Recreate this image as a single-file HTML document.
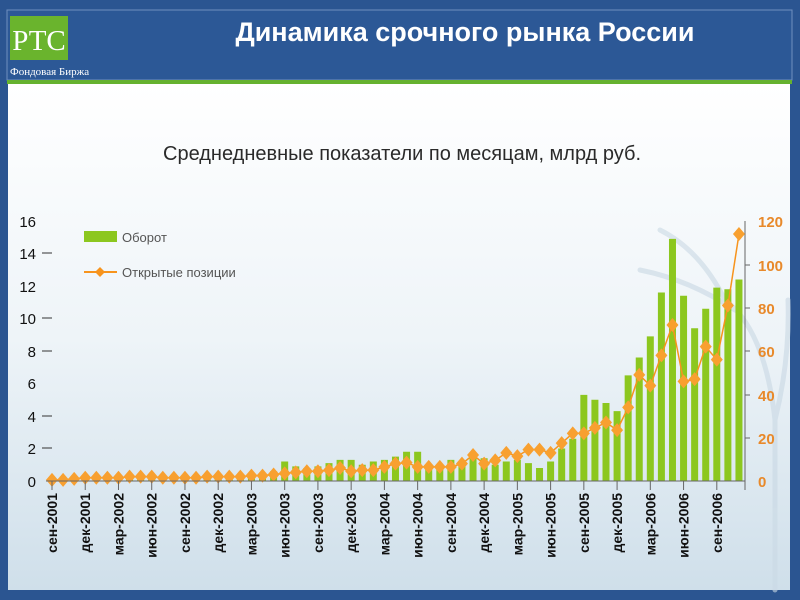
<!DOCTYPE html>
<html><head><meta charset="utf-8"><style>
html,body{margin:0;padding:0;width:800px;height:600px;overflow:hidden;background:#2b5591}
svg{display:block}
</style></head><body>
<svg width="800" height="600" xmlns="http://www.w3.org/2000/svg" font-family="Liberation Sans, DejaVu Sans, sans-serif">
<defs>
<linearGradient id="bg" x1="0" y1="0" x2="0" y2="1">
<stop offset="0" stop-color="#ffffff"/><stop offset="0.5" stop-color="#eef4f8"/><stop offset="1" stop-color="#cfdfea"/>
</linearGradient>
</defs>
<rect x="0" y="0" width="800" height="600" fill="#2b5591"/>
<rect x="7" y="10" width="785" height="70" fill="#2c5896" stroke="#6f8fbf" stroke-width="1"/>
<rect x="7" y="80" width="785" height="4" fill="#66b22f"/>
<rect x="8" y="84" width="782" height="506" fill="url(#bg)"/>
<!-- tree hint -->
<g stroke="#c9d8e4" stroke-width="5" fill="none" stroke-linecap="round" opacity="0.6">
<path d="M775 590 L775 420 Q765 330 725 300"/>
<path d="M775 420 Q790 360 788 300"/>
<path d="M735 310 Q690 280 640 270"/>
<path d="M725 300 Q700 250 660 230"/>
</g>
<!-- logo -->
<rect x="10" y="16" width="58" height="44" fill="#6ab42d"/>
<text x="39" y="50" text-anchor="middle" font-family="Liberation Serif, serif" font-size="29" fill="#fff">РТС</text>
<text x="10" y="75" font-family="Liberation Serif, serif" font-size="11" fill="#fff">Фондовая Биржа</text>
<text x="465" y="41" text-anchor="middle" font-size="27" font-weight="bold" fill="#fff">Динамика срочного рынка России</text>
<text x="402" y="160" text-anchor="middle" font-size="20" fill="#2a2a2a">Среднедневные показатели по месяцам, млрд руб.</text>
<!-- left axis labels -->
<g font-size="15" fill="#111" text-anchor="end">
<text x="36" y="227">16</text><text x="36" y="259">14</text><text x="36" y="292">12</text><text x="36" y="324">10</text>
<text x="36" y="357">8</text><text x="36" y="389">6</text><text x="36" y="422">4</text><text x="36" y="454">2</text><text x="36" y="487">0</text>
</g>
<g stroke="#333" stroke-width="1">
<line x1="42" y1="253" x2="52" y2="253"/><line x1="42" y1="318" x2="52" y2="318"/><line x1="42" y1="351" x2="52" y2="351"/>
<line x1="42" y1="416" x2="52" y2="416"/><line x1="42" y1="448" x2="52" y2="448"/>
</g>
<!-- right axis -->
<line x1="745" y1="221" x2="745" y2="490" stroke="#666" stroke-width="1"/>
<g font-size="15" font-weight="bold" fill="#e8892a">
<text x="758" y="227">120</text><text x="758" y="271">100</text><text x="758" y="314">80</text><text x="758" y="357">60</text>
<text x="758" y="401">40</text><text x="758" y="444">20</text><text x="758" y="487">0</text>
</g>
<g stroke="#666"><line x1="745" y1="265" x2="750" y2="265"/><line x1="745" y1="308" x2="750" y2="308"/><line x1="745" y1="351" x2="750" y2="351"/><line x1="745" y1="395" x2="750" y2="395"/><line x1="745" y1="438" x2="750" y2="438"/></g>
<!-- legend -->
<rect x="84" y="231" width="33" height="11" fill="#8cc71f"/>
<text x="122" y="242" font-size="13" fill="#555">Оборот</text>
<line x1="84" y1="272" x2="117" y2="272" stroke="#f7941d" stroke-width="2"/>
<path d="M100 267 L105 272 L100 277 L95 272Z" fill="#f7941d"/>
<text x="122" y="277" font-size="13" fill="#555">Открытые позиции</text>
<g id="chart"></g>
<line x1="46" y1="481" x2="745" y2="481" stroke="#666" stroke-width="1"/>
<g id="xl"></g>
</svg>
<script>
var bars=[0.1,0.1,0.15,0.2,0.2,0.2,0.2,0.2,0.2,0.2,0.2,0.2,0.2,0.2,0.2,0.25,0.25,0.3,0.3,0.4,0.6,1.2,0.9,0.8,0.9,1.1,1.3,1.3,1.0,1.2,1.3,1.5,1.8,1.8,1.0,1.0,1.3,1.1,1.4,1.4,1.0,1.2,1.3,1.1,0.8,1.2,2.0,2.6,5.3,5.0,4.8,4.3,6.5,7.6,8.9,11.6,14.9,11.4,9.4,10.6,11.9,11.8,12.4];
var line=[0.5,0.5,1,1.5,1.5,1.5,1.5,2,2,2,1.5,1.5,1.5,1.5,2,2,2,2,2.5,2.5,3,3.5,4,4.5,4.5,5,6,4.5,5,5,6.5,8,8.5,6.5,6.5,6.5,6.5,8,12,8,9.5,13,11.5,14.5,14.5,13,17.5,22,22,24.5,27,23.5,34,49,44,58,72,46,47,62,56,81,114];
var g=document.getElementById('chart'),s='';
function X(i){return 52+i*11.08}
for(var i=0;i<63;i++){var h=bars[i]*16.25;s+='<rect x="'+(X(i)-3.5)+'" y="'+(481-h)+'" width="7" height="'+h+'" fill="#8cc71f"/>';}
var p='';for(i=0;i<63;i++){p+=(i?'L':'M')+X(i).toFixed(1)+' '+(481-line[i]*2.1667).toFixed(1);}
s+='<path d="'+p+'" fill="none" stroke="#f7941d" stroke-width="1.5"/>';
for(i=0;i<63;i++){var x=X(i),y=481-line[i]*2.1667;s+='<path d="M'+x+' '+(y-7)+' L'+(x+6)+' '+y+' L'+x+' '+(y+7)+' L'+(x-6)+' '+y+'Z" fill="#f8a030"/>';}
g.innerHTML=s;
var m=['сен','дек','мар','июн'],t='';
for(i=0;i<21;i++){var x=X(i*3),yr=2001+Math.floor((i+2)/4);var lab=m[i%4]+'-'+yr;
t+='<line x1="'+x+'" y1="481" x2="'+x+'" y2="490" stroke="#666"/>';
t+='<text transform="translate('+(x+5)+',493) rotate(-90)" text-anchor="end" font-size="14" font-weight="bold" fill="#111">'+lab+'</text>';}
document.getElementById('xl').innerHTML=t;
</script>
</body></html>
